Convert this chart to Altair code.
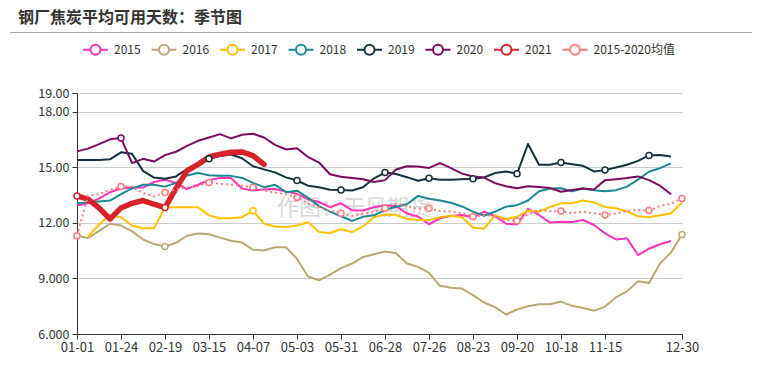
import altair as alt
import pandas as pd

title_text = "钢厂焦炭平均可用天数：季节图"
watermark_text = "作图：天风期货"

x_labels = ["01-01", "01-24", "02-19", "03-15", "04-07", "05-03", "05-31",
            "06-28", "07-26", "08-23", "09-20", "10-18", "11-15", "12-30"]
label_idx = [0, 4, 8, 12, 16, 20, 24, 28, 32, 36, 40, 44, 48, 55]
y_ticks = [6, 9, 12, 15, 18, 19]

series_names = ["2015", "2016", "2017", "2018", "2019", "2020", "2021", "2015-2020均值"]
colors = ["#ff33bb", "#bba872", "#ffc000", "#1a8a92", "#14323e", "#7c0b5d", "#d9232a", "#ff7b7b"]

v2015 = [12.93, 13.05, 13.3, 13.65, 13.85, 13.9, 13.9, 14.2, 14.32, 14.15,
         13.82, 14.05, 14.3, 14.41, 14.41, 13.85, 13.74, 13.8, 13.82, 13.68,
         13.56, 13.27, 13.12, 12.84, 13.05, 12.68, 12.66, 12.84, 12.95, 12.9,
         12.5, 12.34, 11.92, 12.24, 12.37, 12.42, 12.28, 12.6, 12.35, 11.95,
         11.9, 12.75, 12.42, 12.01, 12.06, 12.04, 12.15, 11.88, 11.43, 11.1,
         11.16, 10.26, 10.6, 10.84, 11.02, None]
v2016 = [11.3, 11.18, 11.55, 11.95, 11.85, 11.55, 11.1, 10.85, 10.72, 10.92,
         11.3, 11.42, 11.38, 11.2, 11.03, 10.93, 10.55, 10.5, 10.68, 10.68,
         10.05, 9.1, 8.9, 9.2, 9.55, 9.8, 10.15, 10.3, 10.45, 10.35,
         9.8, 9.62, 9.3, 8.6, 8.5, 8.45, 8.1, 7.7, 7.45, 7.05,
         7.32, 7.5, 7.6, 7.6, 7.75, 7.52, 7.4, 7.25, 7.48, 7.98,
         8.3, 8.85, 8.75, 9.8, 10.4, 11.37]
v2017 = [None, 11.26, 11.9, 12.4, 12.3, 11.85, 11.7, 11.7, 12.84, 12.84,
         12.84, 12.84, 12.4, 12.24, 12.24, 12.3, 12.65, 11.95, 11.8, 11.77,
         11.85, 12.03, 11.5, 11.45, 11.65, 11.5, 11.8, 12.3, 12.45, 12.43,
         12.2, 12.15, 12.15, 12.3, 12.38, 12.3, 11.75, 11.68, 12.4, 12.2,
         12.33, 12.65, 12.6, 12.85, 13.05, 13.05, 13.2, 13.1, 12.85, 12.78,
         12.6, 12.35, 12.3, 12.4, 12.5, 13.1]
v2018 = [13.05, 13.1, 13.15, 13.2, 13.55, 13.85, 14.05, 14.05, 13.95, 14.15,
         14.55, 14.68, 14.56, 14.53, 14.53, 14.42, 14.15, 13.92, 14.05, 13.65,
         13.73, 13.35, 12.9, 12.6, 12.35, 12.1, 12.32, 12.4, 12.7, 12.85,
         13.0, 13.45, 13.3, 13.2, 13.08, 12.88, 12.6, 12.38, 12.6, 12.87,
         12.95, 13.2, 13.7, 13.85, 13.86, 13.7, 13.85, 13.76, 13.7, 13.76,
         13.95, 14.33, 14.75, 14.95, 15.2, None]
v2019 = [15.38, 15.39, 15.39, 15.42, 15.8, 15.72, 14.8, 14.44, 14.38, 14.5,
         14.9, 15.2, 15.45, 15.6, 15.68, 15.48, 15.05, 14.88, 14.72, 14.45,
         14.28, 14.0, 13.92, 13.78, 13.77, 13.74, 13.92, 14.4, 14.71, 14.63,
         14.46, 14.27, 14.4, 14.32, 14.32, 14.35, 14.37, 14.44, 14.68, 14.77,
         14.64, 16.25, 15.13, 15.13, 15.25, 15.16, 15.07, 14.77, 14.84, 14.98,
         15.13, 15.34, 15.63, 15.65, 15.58, None]
v2020 = [15.85, 16.0, 16.24, 16.5, 16.57, 15.22, 15.45, 15.3, 15.65, 15.83,
         16.15, 16.42, 16.6, 16.78, 16.55, 16.75, 16.8, 16.6, 16.2, 15.95,
         16.02, 15.55, 15.25, 14.62, 14.48, 14.42, 14.35, 14.2, 14.3, 14.87,
         15.05, 15.04, 14.96, 15.22, 14.95, 14.65, 14.5, 14.44, 14.14, 13.97,
         13.86, 13.97, 13.93, 13.87, 13.67, 13.77, 13.85, 13.8, 14.3, 14.35,
         14.41, 14.5, 14.3, 14.0, 13.54, None]
v2021 = [13.45, 13.28, 12.8, 12.2, 12.8, 13.05, 13.2, 13.0, 12.82, 13.85,
         14.8, 15.15, 15.55, 15.7, 15.8, 15.82, 15.62, 15.15] + [None] * 38
v_avg = [11.3, 13.45, 13.55, 13.78, 13.95, 13.95, 13.6, 13.42, 13.63, 13.8,
         13.9, 13.98, 14.17, 14.1, 14.05, 14.0, 13.92, 13.75, 13.63, 13.54,
         13.36, 13.05, 12.85, 12.65, 12.51, 12.37, 12.5, 12.6, 12.78, 13.02,
         12.9, 12.75, 12.78, 12.64, 12.6, 12.51, 12.33, 12.42, 12.33, 12.15,
         12.1, 12.45, 12.7, 12.62, 12.64, 12.52, 12.6, 12.52, 12.42, 12.5,
         12.64, 12.69, 12.66, 12.9, 13.02, 13.31]

markers = {
    "2016": [8, 55],
    "2017": [16],
    "2019": [12, 20, 24, 28, 32, 36, 40, 44, 48, 52],
    "2020": [4],
    "2021": [0, 8],
    "2015-2020均值": [0, 4, 8, 12, 16, 20, 24, 28, 32, 36, 40, 44, 48, 52, 55],
}

all_series = [v2015, v2016, v2017, v2018, v2019, v2020, v2021, v_avg]
rows = []
for k, (name, vals) in enumerate(zip(series_names, all_series)):
    for i, v in enumerate(vals):
        if v is not None:
            rows.append({"idx": i, "value": v, "series": name, "k": k,
                         "marker": i in markers.get(name, [])})
df = pd.DataFrame(rows)

FONT = "Noto Sans CJK SC"
label_expr = ("[" + ",".join("'%s'" % s for s in x_labels) + "][indexof(["
              + ",".join(str(i) for i in label_idx) + "], datum.value)]")

xenc = alt.X("idx:Q", scale=alt.Scale(domain=[0, 55], nice=False, zero=False),
             axis=alt.Axis(values=label_idx, labelExpr=label_expr, title=None, grid=False,
                           domainColor="#333", tickColor="#333", tickSize=5,
                           labelFontSize=13, labelColor="#333", labelFont=FONT,
                           labelPadding=2, labelOverlap=False, labelFlush=False,
                           labelBound=False))
yenc = alt.Y("value:Q", scale=alt.Scale(domain=[6, 19], nice=False, zero=False),
             axis=alt.Axis(values=y_ticks, title=None, grid=True, gridColor="#cccccc",
                           labelExpr="datum.value < 10 ? format(datum.value, '.3f') : format(datum.value, '.2f')",
                           domainColor="#333", tickColor="#333", tickSize=5,
                           labelFontSize=12.5, labelColor="#333", labelFont=FONT,
                           labelPadding=3, labelOverlap=False))

legend_path = ("M-1,0L-0.4,0M0.4,0L1,0M-0.4,0A0.4,0.4,0,1,1,0.4,0"
               "A0.4,0.4,0,1,1,-0.4,0")
legend = alt.Legend(orient="none", legendX=5, legendY=-57, direction="horizontal",
                    columns=8, title=None, symbolType=legend_path, symbolSize=625,
                    symbolStrokeWidth=2, symbolFillColor="white", labelFontSize=12,
                    labelColor="#333", labelFont=FONT, columnPadding=6.5,
                    labelOffset=5, padding=0)

base = alt.Chart(df)

thin = base.transform_filter(
    alt.FieldOneOfPredicate(field="series", oneOf=series_names[:6])
).mark_line(strokeWidth=2, strokeJoin="round").encode(
    x=xenc, y=yenc,
    color=alt.Color("series:N", scale=alt.Scale(domain=series_names, range=colors), legend=legend),
    detail="series:N",
    order=alt.Order("idx:Q"),
)

red = base.transform_filter(alt.datum.series == "2021").mark_line(
    strokeWidth=5.5, strokeJoin="round", strokeCap="round", color=colors[6]
).encode(x=xenc, y=yenc, order=alt.Order("idx:Q"))

avg = base.transform_filter(alt.datum.series == "2015-2020均值").mark_line(
    strokeWidth=2, strokeDash=[2, 3], color=colors[7]
).encode(x=xenc, y=yenc, order=alt.Order("idx:Q"))

pts = base.transform_filter(alt.datum.marker == True).mark_point(
    filled=True, fill="white", size=36, strokeWidth=1.5, opacity=1
).encode(
    x=xenc, y=yenc,
    stroke=alt.Stroke("series:N", scale=alt.Scale(domain=series_names, range=colors), legend=None),
)

deco_df = pd.DataFrame({"t": [title_text], "w": [watermark_text]})
deco = alt.Chart(deco_df)
watermark = deco.mark_text(fontSize=22, font=FONT, color="#cccccc", opacity=0.75,
                           align="center", baseline="middle").encode(
    x=alt.value(277), y=alt.value(115), text="w:N")
title = deco.mark_text(fontSize=16, font=FONT, fontWeight="bold", color="#333",
                       align="left", baseline="middle").encode(
    x=alt.value(-59), y=alt.value(-75.5), text="t:N")
sep = deco.mark_rule(color="#aaaaaa", strokeWidth=1).encode(
    x=alt.value(-67), x2=alt.value(686), y=alt.value(-60.5))

chart = alt.layer(watermark, thin, red, avg, pts, title, sep).properties(
    width=605, height=241,
    autosize=alt.AutoSizeParams(type="none"),
    padding={"left": 69, "top": 85, "right": 70, "bottom": 22},
).configure_view(strokeWidth=0)

chart.save("out.html", embed_options={"renderer": "svg", "actions": False})
